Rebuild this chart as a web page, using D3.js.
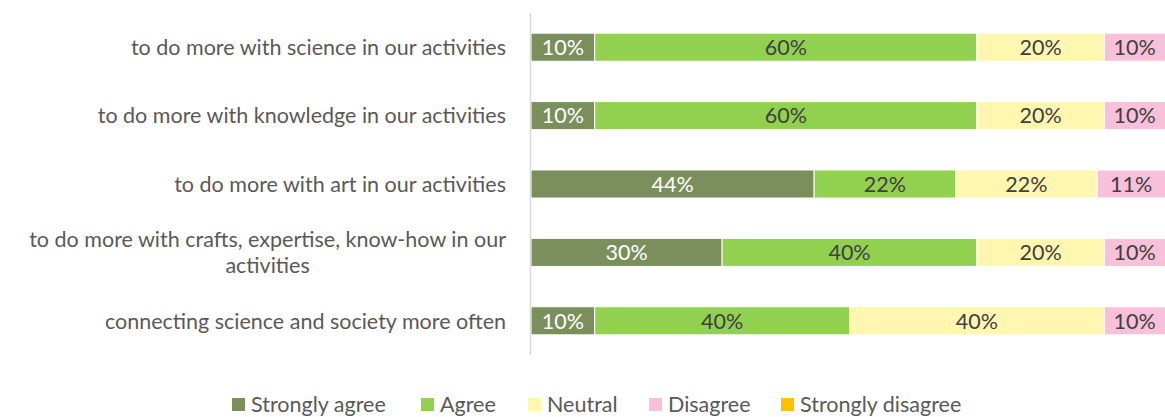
<!DOCTYPE html>
<html>
<head>
<meta charset="utf-8">
<script src="https://cdn.jsdelivr.net/npm/d3@7"></script>
<style>
  html, body { margin: 0; padding: 0; background: #fff; overflow: hidden; }
  svg { display: block; font-family: Lato, "Open Sans", sans-serif; }
</style>
</head>
<body>
<svg id="chart" width="1165" height="417"></svg>
<script>
// Survey statements (top to bottom); the fourth wraps onto two lines
const categories = [
  "to do more with science in our activities",
  "to do more with knowledge in our activities",
  "to do more with art in our activities",
  "to do more with crafts, expertise, know-how in our activities",
  "connecting science and society more often"
];
const categoryLines = [
  ["to do more with science in our activities"],
  ["to do more with knowledge in our activities"],
  ["to do more with art in our activities"],
  ["to do more with crafts, expertise, know-how in our", "activities"],
  ["connecting science and society more often"]
];
const seriesNames = ["Strongly agree", "Agree", "Neutral", "Disagree", "Strongly disagree"];
const stronglyAgree    = [10, 10, 44, 30, 10];
const agree            = [60, 60, 22, 40, 40];
const neutral          = [20, 20, 22, 20, 40];
const disagree         = [10, 10, 11, 10, 10];
const stronglyDisagree = [0, 0, 0, 0, 0];
const colors = ["#7b8f5c", "#92d050", "#fff6b0", "#f8c1d9", "#ffc000"];
const labelColors = ["#ffffff", "#404040", "#404040", "#404040", "#404040"];

const seriesValues = [stronglyAgree, agree, neutral, disagree, stronglyDisagree];
const rows = categories.map((c, i) => {
  const r = { category: c };
  seriesNames.forEach((s, k) => { r[s] = seriesValues[k][i]; });
  return r;
});

const fontSize = 21.5;
const svg = d3.select("#chart");
const plot = { left: 531, right: 1168, top: 13, bottom: 355 };

const x = d3.scaleLinear().domain([0, 1]).range([plot.left, plot.right]);
const y = d3.scaleBand().domain(categories).range([plot.top, plot.bottom]).paddingInner(0.59).paddingOuter(0.295);

// each row is shown as shares of its own total
const stacked = d3.stack().keys(seriesNames).offset(d3.stackOffsetExpand)(rows);

const layers = svg.append("g").selectAll("g")
  .data(stacked)
  .join("g")
  .attr("fill", (d, i) => colors[i]);

layers.selectAll("rect")
  .data(d => d.filter(p => p[1] > p[0]))
  .join("rect")
  .attr("x", d => x(d[0]))
  .attr("y", d => y(d.data.category))
  .attr("width", d => x(d[1]) - x(d[0]))
  .attr("height", y.bandwidth())
  .attr("stroke", "#ffffff")
  .attr("stroke-width", 1);

// value labels centred in each segment
stacked.forEach((layer, i) => {
  svg.append("g").selectAll("text")
    .data(layer.filter(p => p[1] > p[0]))
    .join("text")
    .attr("x", d => (x(d[0]) + Math.min(x(d[1]), 1165)) / 2)
    .attr("y", d => y(d.data.category) + y.bandwidth() / 2)
    .attr("dy", "0.36em")
    .attr("text-anchor", "middle")
    .attr("fill", labelColors[i])
    .attr("font-size", fontSize)
    .text(d => d.data[layer.key] + "%");
});

// vertical category axis line
const yAxis = d3.axisLeft(y).tickSize(0).tickFormat("");
const axisG = svg.append("g").attr("transform", `translate(${plot.left - 0.5},0)`).call(yAxis);
axisG.select(".domain").attr("stroke", "#d9d9d9").attr("stroke-width", 1.5)
  .attr("d", `M0,${plot.top}V${plot.bottom}`);

// category labels, right aligned; wrapped lines centred within the block
const labelRight = 506;
categories.forEach((c, i) => {
  const lines = categoryLines[i];
  const cy = y(c) + y.bandwidth() / 2;
  const lh = 26;
  const g = svg.append("g").attr("fill", "#595959").attr("font-size", fontSize);
  const first = g.append("text")
    .attr("x", labelRight)
    .attr("y", cy - (lines.length - 1) * lh / 2)
    .attr("dy", "0.36em")
    .attr("text-anchor", "end")
    .text(lines[0]);
  if (lines.length > 1) {
    const w = first.node().getComputedTextLength();
    lines.slice(1).forEach((ln, j) => {
      g.append("text")
        .attr("x", labelRight - w / 2)
        .attr("y", cy - (lines.length - 1) * lh / 2 + (j + 1) * lh)
        .attr("dy", "0.36em")
        .attr("text-anchor", "middle")
        .text(ln);
    });
  }
});

// legend along the bottom edge
const legendX = [232, 421, 528, 649, 781];
const legend = svg.append("g").attr("font-size", fontSize).attr("fill", "#595959");
seriesNames.forEach((s, i) => {
  legend.append("rect")
    .attr("x", legendX[i]).attr("y", 398)
    .attr("width", 13).attr("height", 13)
    .attr("fill", colors[i]);
  legend.append("text")
    .attr("x", legendX[i] + 19).attr("y", 404)
    .attr("dy", "0.36em")
    .text(s);
});
</script>
</body>
</html>
